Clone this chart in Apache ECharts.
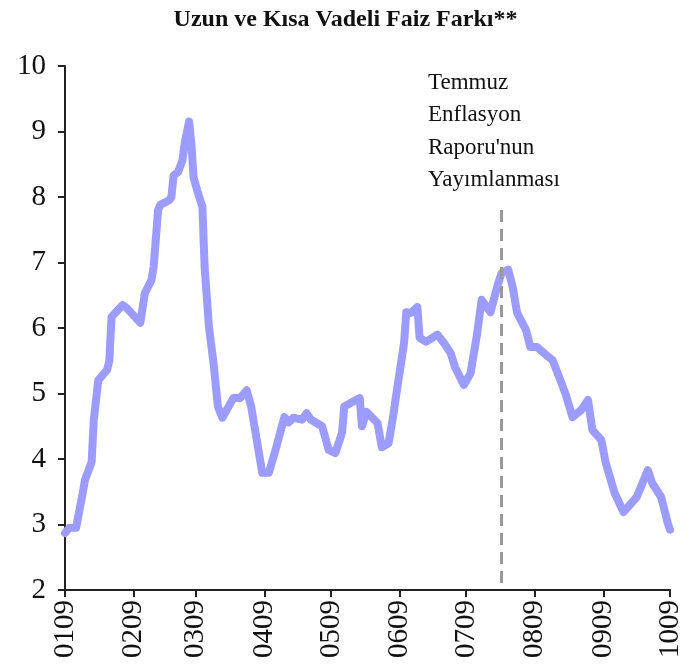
<!DOCTYPE html>
<html>
<head>
<meta charset="utf-8">
<script src="https://cdn.jsdelivr.net/npm/echarts@6/dist/echarts.min.js"></script>
<style>
  html, body { margin: 0; padding: 0; background: #fff; }
  #chart { width: 691px; height: 669px; }
</style>
</head>
<body>
<div id="chart"></div>
<script>
// okunan noktalar (2009, ay-gün)
const sampleDates = [
  '01-01', '01-03', '01-06', '01-09', '01-10', '01-13', '01-14', '01-16', '01-20', '01-21',
  '01-22', '01-27', '01-29', '02-04', '02-06', '02-09', '02-10', '02-12', '02-13', '02-17',
  '02-18', '02-19', '02-21', '02-23', '02-24', '02-26', '02-27', '02-28', '03-02', '03-04',
  '03-05', '03-07', '03-09', '03-11', '03-13', '03-15', '03-18', '03-21', '03-24', '03-26',
  '03-28', '03-31', '04-03', '04-06', '04-10', '04-12', '04-14', '04-18', '04-20', '04-22',
  '04-27', '04-30', '05-03', '05-06', '05-07', '05-14', '05-15', '05-17', '05-22', '05-24',
  '05-27', '05-29', '05-31', '06-03', '06-04', '06-06', '06-09', '06-10', '06-13', '06-18',
  '06-21', '06-24', '06-26', '06-30', '07-03', '07-06', '07-08', '07-12', '07-15', '07-17',
  '07-20', '07-22', '07-24', '07-28', '07-30', '08-02', '08-06', '08-09', '08-12', '08-15',
  '08-18', '08-22', '08-25', '08-27', '08-31', '09-02', '09-06', '09-10', '09-16', '09-21',
  '09-23', '09-27', '09-30', '10-01'
]
const spreadValues = [
  2.87, 2.95, 2.95, 3.48, 3.68, 3.95, 4.6, 5.2, 5.36, 5.5,
  6.17, 6.35, 6.3, 6.08, 6.53, 6.73, 6.93, 7.8, 7.88, 7.95,
  8.0, 8.33, 8.38, 8.56, 8.82, 9.15, 8.82, 8.3, 8.06, 7.85,
  6.93, 6.0, 5.47, 4.8, 4.63, 4.75, 4.93, 4.93, 5.05, 4.8,
  4.4, 3.79, 3.79, 4.14, 4.64, 4.56, 4.63, 4.6, 4.7, 4.6,
  4.5, 4.14, 4.09, 4.4, 4.8, 4.93, 4.5, 4.72, 4.55, 4.18,
  4.24, 4.64, 5.1, 5.77, 6.24, 6.23, 6.32, 5.85, 5.79, 5.9,
  5.77, 5.62, 5.4, 5.13, 5.31, 5.92, 6.43, 6.24, 6.63, 6.84,
  6.89, 6.63, 6.23, 5.97, 5.71, 5.71, 5.59, 5.51, 5.25, 4.98,
  4.64, 4.75, 4.9, 4.44, 4.29, 3.94, 3.48, 3.19, 3.42, 3.83,
  3.63, 3.42, 3.02, 2.92
]
const reportDate = '2009-07-17'
const noteLines = ['Temmuz', 'Enflasyon', "Raporu'nun", 'Yayımlanması']

// günlük kategori ekseni
const days = []
for (let d = new Date(Date.UTC(2009, 0, 1)); d <= new Date(Date.UTC(2009, 9, 1)); d.setUTCDate(d.getUTCDate() + 1)) {
  days.push(d.toISOString().slice(0, 10))
}
const lookup = {}
sampleDates.forEach((md, i) => { lookup['2009-' + md] = spreadValues[i] })
const seriesData = days.map(day => (day in lookup ? lookup[day] : null))

const isMonthStart = (idx, value) => value.slice(8) === '01'
const serif = 'Liberation Serif'

const chart = echarts.init(document.getElementById('chart'))
chart.setOption({
  animation: false,
  title: {
    text: 'Uzun ve Kısa Vadeli Faiz Farkı**',
    left: 'center',
    top: 3,
    textStyle: { fontFamily: serif, fontSize: 24, fontWeight: 'bold', color: '#111' }
  },
  grid: { left: 65, right: 21, top: 66, bottom: 79 },
  xAxis: {
    type: 'category',
    data: days,
    boundaryGap: false,
    axisLine: { lineStyle: { color: '#222', width: 2 } },
    axisTick: { interval: isMonthStart, length: 7, lineStyle: { color: '#222', width: 2 } },
    axisLabel: {
      interval: isMonthStart,
      rotate: 90,
      margin: 10,
      fontFamily: serif,
      fontSize: 29,
      color: '#111',
      formatter: v => v.slice(5, 7) + v.slice(2, 4)
    }
  },
  yAxis: {
    type: 'value',
    min: 2,
    max: 10,
    interval: 1,
    axisLine: { show: true, lineStyle: { color: '#222', width: 2 } },
    axisTick: { show: true, length: 7, lineStyle: { color: '#222', width: 2 } },
    splitLine: { show: false },
    axisLabel: { fontFamily: serif, fontSize: 29, color: '#111', margin: 19 }
  },
  graphic: noteLines.map((t, i) => ({
    type: 'text',
    left: 428,
    top: 71 + i * 32.5,
    style: { text: t, font: '23px "Liberation Serif"', fill: '#111' }
  })),
  series: [
    {
      type: 'line',
      data: seriesData,
      connectNulls: true,
      showSymbol: false,
      lineStyle: { color: '#9c9cff', width: 8, cap: 'round', join: 'round' },
      markLine: {
        silent: true,
        symbol: 'none',
        label: { show: false },
        lineStyle: { color: '#999', width: 3, type: [12, 7] },
        data: [[{ xAxis: reportDate, yAxis: 7.8 }, { xAxis: reportDate, yAxis: 2 }]]
      }
    }
  ]
})
</script>
</body>
</html>
